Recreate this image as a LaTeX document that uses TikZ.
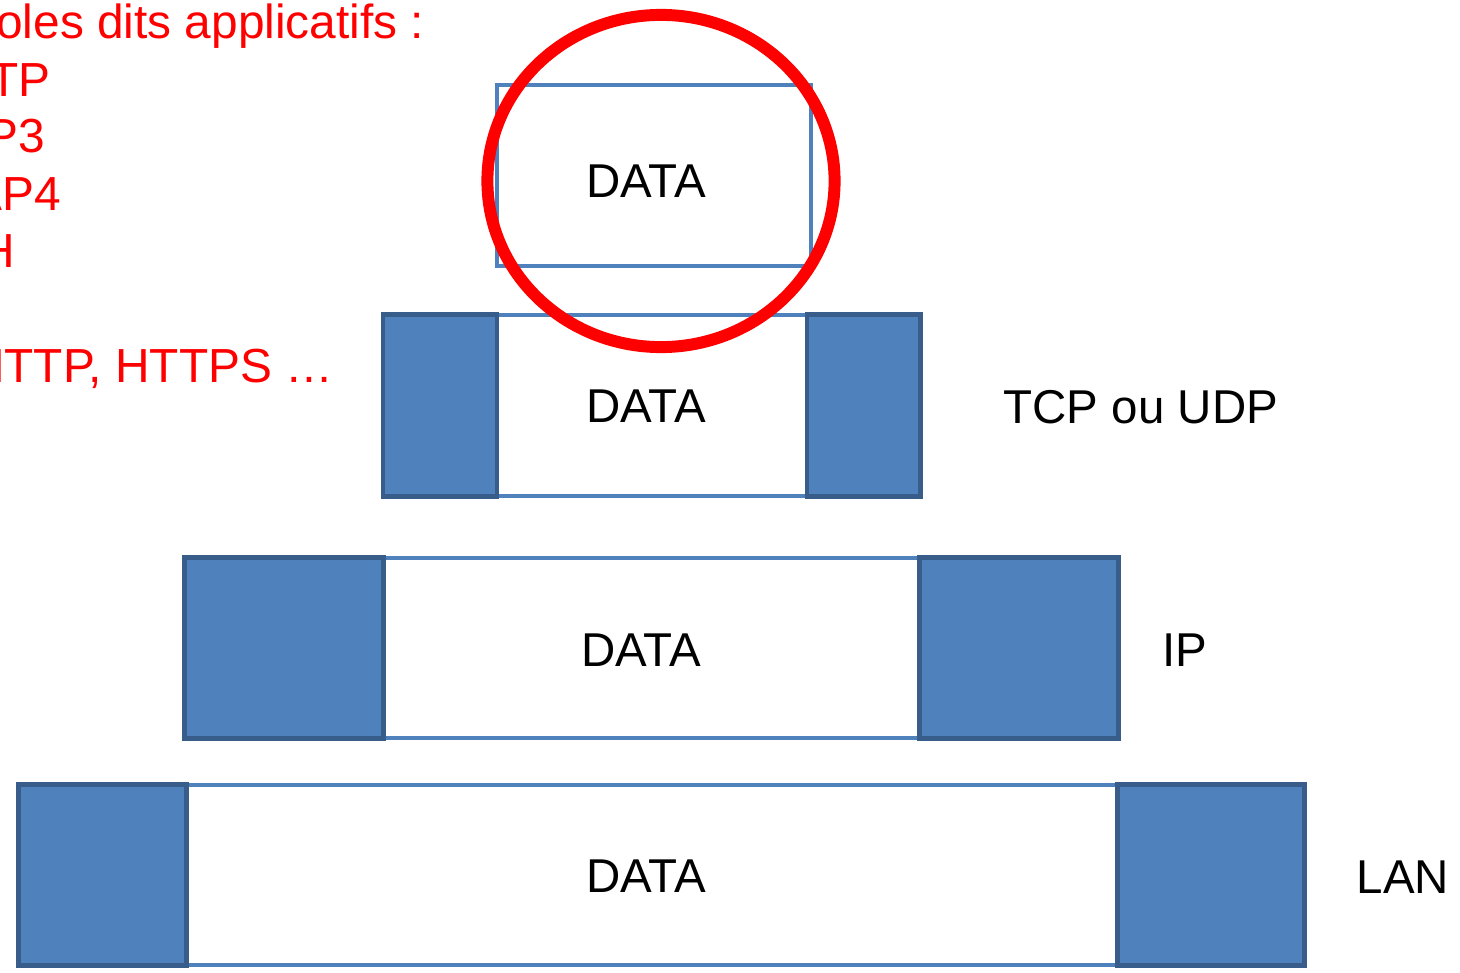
\documentclass[tikz,border=0pt]{standalone}
\usepackage{fontspec}
\setmainfont{Liberation Sans}
\usepackage{xcolor}
\usepackage{tikz}
\definecolor{hdrfill}{HTML}{4F81BD}
\definecolor{hdrline}{HTML}{385D8A}
\definecolor{dataline}{HTML}{4F81BD}
\definecolor{mark}{HTML}{FF0000}
\tikzset{
  databox/.style={draw=dataline, fill=white, line width=1.1pt, inner sep=0pt, outer sep=0pt},
  hdr/.style={draw=hdrline, fill=hdrfill, line width=1.4pt, inner sep=0pt, outer sep=0pt},
  ring/.style={draw=mark, line width=3.4pt},
  lab/.style={text=black, font=\fontsize{13.5}{16}\selectfont, inner sep=0pt},
  note/.style={text=mark, font=\fontsize{13.6}{16}\selectfont, inner sep=0pt, anchor=base east}
}

\begin{document}
\begin{tikzpicture}[x=0.01cm, y=-0.01cm]
  \useasboundingbox (0,0) rectangle (1460,973);

  % application layer
  \node[databox, minimum width=3.14cm, minimum height=1.81cm] (app) at (654,175.5) {};
  \node[lab] (appT) at (646,181) {DATA};

  % transport layer
  \node[databox, minimum width=3.10cm, minimum height=1.81cm] (tcp) at (652,405.5) {};
  \node[hdr, minimum width=1.14cm, minimum height=1.81cm] (tcpL) at (440,405.5) {};
  \node[hdr, minimum width=1.13cm, minimum height=1.81cm] (tcpR) at (863.5,405.5) {};
  \node[lab] (tcpT) at (646,406) {DATA};
  \node[lab, anchor=base west] (tcpN) at (1003,423) {TCP ou UDP};

  % network layer
  \node[databox, minimum width=5.37cm, minimum height=1.80cm] (ip) at (651.5,648) {};
  \node[hdr, minimum width=1.98cm, minimum height=1.80cm] (ipL) at (284,648) {};
  \node[hdr, minimum width=1.98cm, minimum height=1.80cm] (ipR) at (1019,648) {};
  \node[lab] (ipT) at (641,650) {DATA};
  \node[lab, anchor=base west] (ipN) at (1162,666) {IP};

  % link layer
  \node[databox, minimum width=9.32cm, minimum height=1.80cm] (lan) at (652,875) {};
  \node[hdr, minimum width=1.67cm, minimum height=1.80cm] (lanL) at (102.5,875) {};
  \node[hdr, minimum width=1.86cm, minimum height=1.80cm] (lanR) at (1211,875) {};
  \node[lab] (lanT) at (646,876) {DATA};
  \node[lab, anchor=base west] (lanN) at (1356,893) {LAN};

  % protocols, cut at the left edge
  \node[note] (n1) at (425,39) {oles dits applicatifs :};
  \node[note] (n2) at (51,97) {TP};
  \node[note] (n3) at (46,153) {P3};
  \node[note] (n4) at (62,211) {AP4};
  \node[note] (n5) at (16,268) {H};
  \node[note] (n6) at (334,383) {HTTP, HTTPS …};

  \draw[ring] (661,181) ellipse [x radius=1.735cm, y radius=1.66cm];
\end{tikzpicture}
\end{document}
